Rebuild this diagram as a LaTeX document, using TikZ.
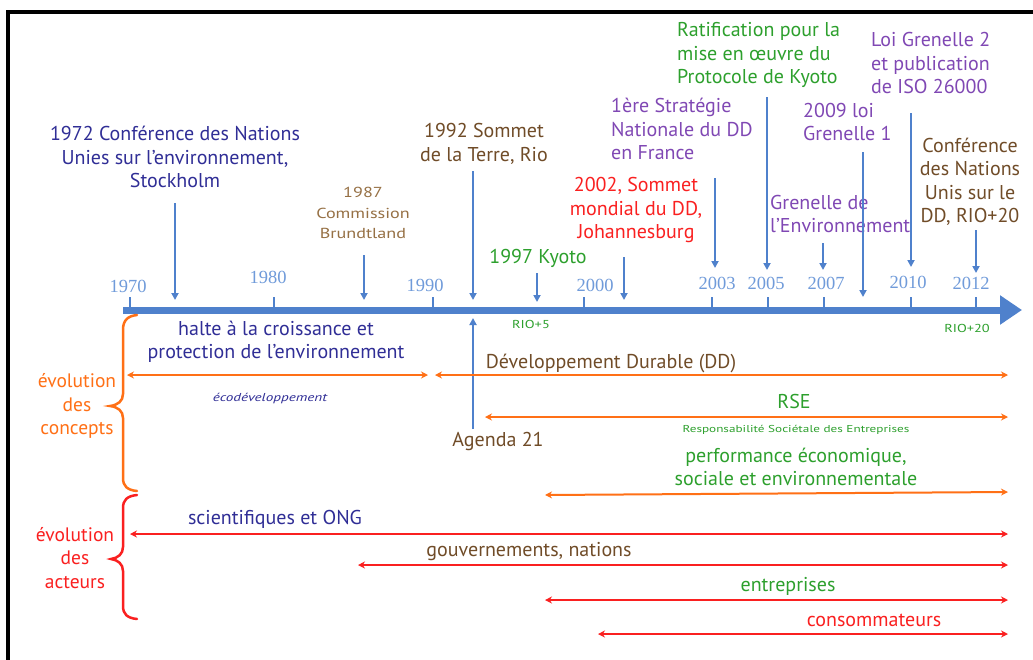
\documentclass[tikz,border=0pt]{standalone}
\usepackage{fontspec}
\setmainfont{PT Sans}
\newfontfamily\widefont[FakeStretch=1.25]{PT Sans}
\newfontfamily\widerfont[FakeStretch=1.32]{PT Sans}
\newfontfamily\yearfont{Liberation Serif}
\usetikzlibrary{arrows.meta}
\definecolor{axisblue}{RGB}{79,129,204}
\definecolor{yearblue}{RGB}{112,155,218}
\definecolor{dkblue}{RGB}{48,46,150}
\definecolor{brownA}{RGB}{112,76,40}
\definecolor{brownB}{RGB}{150,112,68}
\definecolor{greenA}{RGB}{45,160,45}
\definecolor{redA}{RGB}{250,32,32}
\definecolor{purpleA}{RGB}{128,72,180}
\definecolor{orangeA}{RGB}{255,112,22}
\begin{document}
\begin{tikzpicture}[x=1pt,y=-1pt,
  lbl/.style={inner sep=0pt, align=center, font=\fontsize{20}{23.5}\selectfont},
  lbll/.style={lbl, align=left, anchor=west},
  small/.style={inner sep=0pt, align=center, font=\widefont\fontsize{14.5}{20.5}\selectfont},
  tiny/.style={inner sep=0pt, align=center, font=\widefont\fontsize{11.5}{13}\selectfont},
  yr/.style={inner sep=0pt, text=yearblue, font=\yearfont\fontsize{18.5}{20}\selectfont},
  sidelbl/.style={inner sep=0pt, align=center, font=\fontsize{19.5}{23.5}\selectfont},
  evarrow/.style={draw=axisblue, line width=2.5pt, -{Triangle[length=7pt,width=7pt]}},
  darr/.style={line width=2pt, {Stealth[length=7pt,width=7pt]}-{Stealth[length=7pt,width=7pt]}},
  bracestyle/.style={line width=2.5pt, line cap=round}
]
\clip (0,0) rectangle (1033,659);
\fill[white] (0,0) rectangle (1033,659);
% frame
\draw[line width=3.5pt] (8,680) -- (8,12) -- (1045,12);

% axis
\coordinate (axs) at (123,310);
\coordinate (axe) at (1022,310);
\foreach \x in {130,274,433,584,712,768,824,911,976}
  \draw[axisblue, line width=2pt] (\x,310) -- (\x,297);
\draw[axisblue, line width=7pt, -{Triangle[length=22pt,width=28pt]}] (axs) -- (axe);

% years
\node[yr] (y1970) at (128,286) {1970};
\node[yr] (y1980) at (268,277) {1980};
\node[yr] (y1990) at (425,285) {1990};
\node[yr] (y2000) at (595,285) {2000};
\node[yr] (y2003) at (717,283) {2003};
\node[yr] (y2005) at (766,283) {2005};
\node[yr] (y2007) at (826,283) {2007};
\node[yr] (y2010) at (908,282) {2010};
\node[yr] (y2012) at (971,283) {2012};

% event labels
\node[lbl, text=dkblue] (t1972) at (175,157) {1972 Conférence des Nations\\Unies sur l’environnement,\\Stockholm};
\node[small, text=brownB] (t1987) at (363,213) {1987\\Commission\\Brundtland};
\node[lbl, text=brownA] (t1992) at (484,144) {1992 Sommet\\de la Terre, Rio};
\node[lbl, text=greenA] (t1997) at (538,258) {1997 Kyoto};
\node[lbl, text=redA] (t2002) at (636,210) {2002, Sommet\\mondial du DD,\\Johannesburg};
\node[lbll, text=purpleA] (t2001) at (611,129) {1ère Stratégie\\Nationale du DD\\en France};
\node[lbll, text=greenA] (tratif) at (677,55) {Ratification pour la\\mise en œuvre du\\Protocole de Kyoto};
\node[lbll, text=purpleA] (t2009) at (803,122) {2009 loi\\Grenelle 1};
\node[lbll, text=purpleA] (tgren) at (770,214) {Grenelle de\\l’Environnement};
\node[lbll, text=purpleA] (tloi2) at (871,63) {Loi Grenelle 2\\et publication\\de ISO 26000};
\node[lbl, text=brownA] (trio20) at (970,182) {Conférence\\des Nations\\Unis sur le\\DD, RIO+20};
\node[tiny, text=greenA] (rio5) at (531,324) {RIO+5};
\node[tiny, text=greenA] (rio20) at (967,328) {RIO+20};

% event arrows
\coordinate (e1972a) at (175,203); \coordinate (e1972b) at (175,300);
\coordinate (e1987a) at (364,255); \coordinate (e1987b) at (364,300);
\coordinate (e1992a) at (473,171); \coordinate (e1992b) at (473,300);
\coordinate (eaga) at (473,429);   \coordinate (eagb) at (473,318);
\coordinate (e1997a) at (537,273); \coordinate (e1997b) at (537,302);
\coordinate (e2002a) at (624,257); \coordinate (e2002b) at (624,300);
\coordinate (e2003a) at (715,178); \coordinate (e2003b) at (715,268);
\coordinate (e2005a) at (767,97);  \coordinate (e2005b) at (767,270);
\coordinate (e2007a) at (823,243); \coordinate (e2007b) at (823,270);
\coordinate (e2009a) at (863,152); \coordinate (e2009b) at (863,297);
\coordinate (e2010a) at (911,113); \coordinate (e2010b) at (911,267);
\coordinate (e2012a) at (976,230); \coordinate (e2012b) at (976,273);
\foreach \e in {1972,1987,1992,ag,1997,2002,2003,2005,2007,2009,2010,2012}
  \draw[evarrow] (e\e a) -- (e\e b);

% concepts
\node[lbl, text=dkblue] (halte) at (276,342) {halte à la croissance et\\protection de l’environnement};
\node[inner sep=0pt, text=dkblue, font=\widerfont\itshape\fontsize{11.5}{13}\selectfont] (eco) at (270,399) {écodéveloppement};
\node[lbl, text=brownA] (dd) at (611,363) {Développement Durable (DD)};
\node[lbl, text=greenA] (rse) at (794,401) {RSE};
\node[inner sep=0pt, text=greenA, font=\widerfont\fontsize{10}{12}\selectfont] (resp) at (796,430) {Responsabilité Sociétale des Entreprises};
\node[lbl, text=greenA] (perf) at (796,467) {performance économique,\\sociale et environnementale};
\node[lbl, text=brownA] (agenda) at (498,441) {Agenda 21};

\coordinate (ha) at (127,375); \coordinate (hb) at (428,375);
\coordinate (da) at (435,375); \coordinate (db) at (1008,375);
\coordinate (ra) at (485,417); \coordinate (rb) at (1008,417);
\coordinate (pa) at (545,495); \coordinate (pb) at (1008,492);
\draw[darr, orangeA] (ha) -- (hb);
\draw[darr, orangeA] (da) -- (db);
\draw[darr, orangeA] (ra) -- (rb);
\draw[darr, orangeA] (pa) -- (pb);

% actors
\node[lbl, text=dkblue] (sci) at (275,519) {scientifiques et ONG};
\node[lbl, text=brownA] (gouv) at (529,552) {gouvernements, nations};
\node[lbl, text=greenA] (entr) at (788,586) {entreprises};
\node[lbl, text=redA] (cons) at (874,620) {consommateurs};
\coordinate (sa) at (130,534); \coordinate (sb) at (1008,534);
\coordinate (ga) at (358,565); \coordinate (gb) at (1008,565);
\coordinate (ea) at (545,600); \coordinate (eb) at (1008,600);
\coordinate (ca) at (598,634); \coordinate (cb) at (1008,634);
\draw[darr, redA] (sa) -- (sb);
\draw[darr, redA] (ga) -- (gb);
\draw[darr, redA] (ea) -- (eb);
\draw[darr, redA] (ca) -- (cb);

% braces
\draw[bracestyle, orangeA] (137,315) .. controls (127,316) and (123,321) .. (123,330) -- (123,394)
  .. controls (123,401) and (118,405) .. (110,406) .. controls (118,407) and (123,411) .. (123,418)
  -- (123,478) .. controls (123,486) and (127,490) .. (137,491);
\draw[bracestyle, redA] (137,495) .. controls (127,496) and (123,500) .. (123,508) -- (123,547)
  .. controls (123,554) and (118,558) .. (111,559) .. controls (118,560) and (123,564) .. (123,571)
  -- (123,606) .. controls (123,614) and (127,618) .. (137,619);
\node[sidelbl, text=orangeA] (evc) at (77,406) {évolution\\des\\concepts};
\node[sidelbl, text=redA] (eva) at (75,558) {évolution\\des\\acteurs};
\end{tikzpicture}
\end{document}
